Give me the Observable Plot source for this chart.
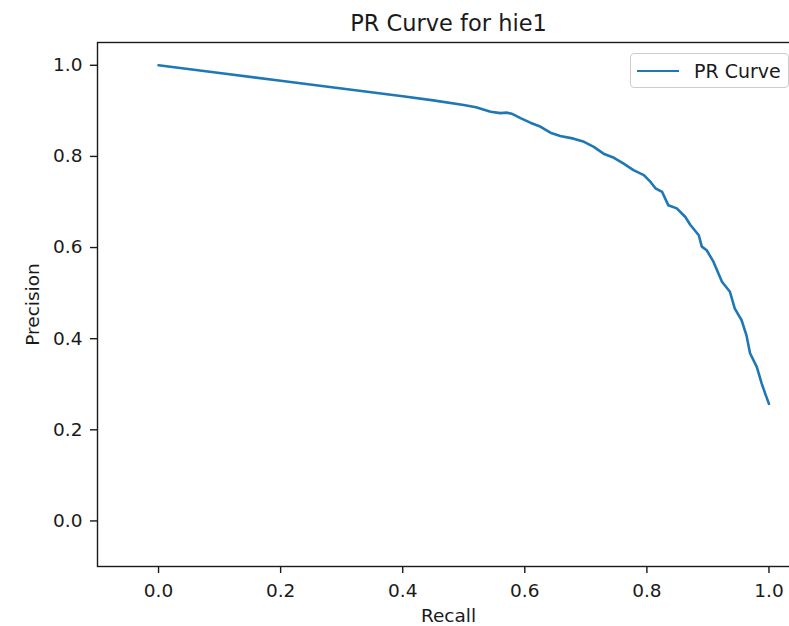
<!DOCTYPE html>
<html>
<head>
<meta charset="utf-8">
<script src="https://cdn.jsdelivr.net/npm/d3@7"></script>
<script src="https://cdn.jsdelivr.net/npm/@observablehq/plot@0.6"></script>
<style>
  html, body { margin: 0; padding: 0; background: #fff; overflow: hidden; }
  #wrap { position: relative; width: 789px; height: 626px; overflow: hidden; font-family: "DejaVu Sans", sans-serif; }
  #wrap svg { max-width: none !important; width: 820px; height: 626px; }
  #legend { position: absolute; left: 630px; top: 53px; width: 159px; height: 35px; box-sizing: border-box;
            border: 1px solid #cccccc; border-radius: 4px; background: rgba(255,255,255,0.8);
            display: flex; align-items: center; font-size: 19px; color: #1a1a1a; }
  #legend .sw { display: inline-block; width: 42px; height: 0; border-top: 2.6px solid #1f77b4; margin-left: 6px; margin-right: 15px; }
</style>
</head>
<body>
<div id="wrap"><div id="legend"><span class="sw"></span><span>PR Curve</span></div></div>
<script>
const title = "PR Curve for hie1";
const xLabel = "Recall";
const yLabel = "Precision";
const seriesName = "PR Curve";
const xTicks = [0.0, 0.2, 0.4, 0.6, 0.8, 1.0];
const yTicks = [0.0, 0.2, 0.4, 0.6, 0.8, 1.0];
const recall = [0.000, 0.100, 0.200, 0.300, 0.400, 0.450, 0.500, 0.520, 0.544, 0.560, 0.571, 0.580,
  0.593, 0.609, 0.626, 0.642, 0.658, 0.680, 0.697, 0.713, 0.729, 0.746, 0.762, 0.778, 0.795,
  0.806, 0.814, 0.825, 0.835, 0.849, 0.863, 0.871, 0.885, 0.890, 0.898, 0.909, 0.923, 0.936,
  0.944, 0.955, 0.963, 0.969, 0.980, 0.988, 0.995, 1.000];
const precision = [1.000, 0.983, 0.966, 0.949, 0.932, 0.923, 0.913, 0.908, 0.898, 0.895, 0.896, 0.893,
  0.884, 0.874, 0.865, 0.852, 0.845, 0.839, 0.832, 0.821, 0.806, 0.797, 0.784, 0.770, 0.759,
  0.744, 0.730, 0.722, 0.693, 0.686, 0.667, 0.650, 0.627, 0.602, 0.594, 0.569, 0.525, 0.503,
  0.466, 0.441, 0.408, 0.368, 0.338, 0.302, 0.275, 0.257];

const data = recall.map((r, i) => ({recall: r, precision: precision[i]}));
const ink = "#1a1a1a";

const chart = Plot.plot({
  width: 820,
  height: 626,
  marginLeft: 97,
  marginRight: 21,
  marginTop: 42,
  marginBottom: 60,
  style: {fontFamily: "DejaVu Sans, sans-serif", fontSize: "18.5px", color: ink, background: "white", maxWidth: "none"},
  x: {domain: [-0.1, 1.05]},
  y: {domain: [-0.1, 1.05]},
  marks: [
    Plot.axisX({ticks: xTicks, tickFormat: d3.format(".1f"), tickSize: 7, tickPadding: 10, stroke: ink, strokeWidth: 1.4,
      label: xLabel, labelAnchor: "center", labelArrow: "none", labelOffset: 55, fontSize: 18.5}),
    Plot.axisY({ticks: yTicks, tickFormat: d3.format(".1f"), tickSize: 7, tickPadding: 8, stroke: ink, strokeWidth: 1.4,
      label: yLabel, labelAnchor: "center", labelArrow: "none", labelOffset: 72, fontSize: 18.5}),
    Plot.line(data, {x: "recall", y: "precision", stroke: "#1f77b4", strokeWidth: 2.6, strokeLinejoin: "round"}),
    Plot.frame({stroke: ink, strokeWidth: 1.4}),
    Plot.text([title], {frameAnchor: "top", dy: -12, lineAnchor: "bottom", fontSize: 22.5, fill: ink})
  ]
});
document.getElementById("wrap").prepend(chart);
</script>
</body>
</html>
